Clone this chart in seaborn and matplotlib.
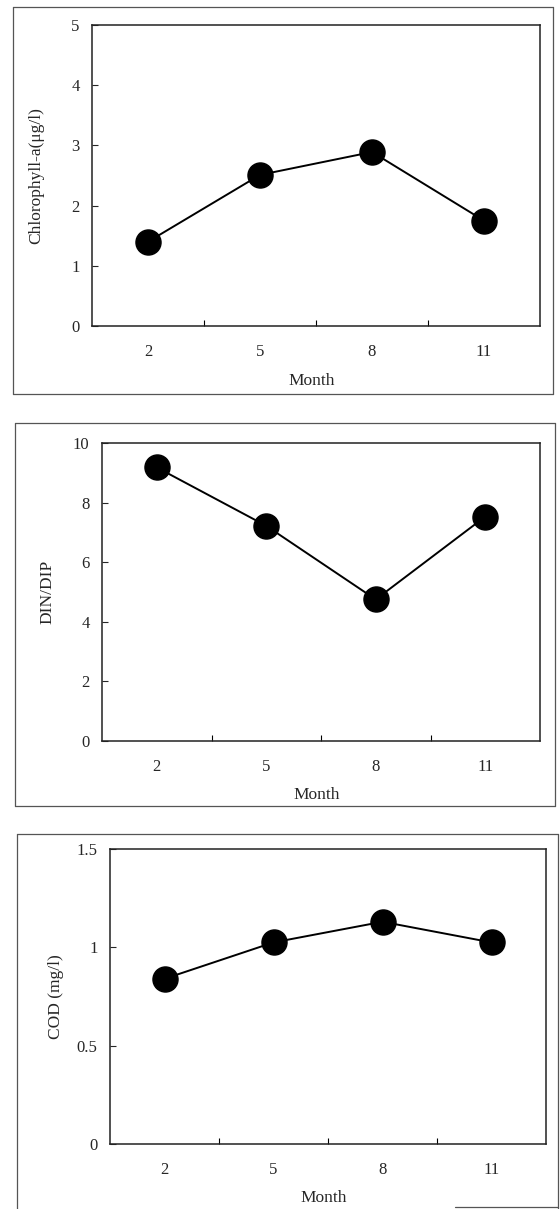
import matplotlib
matplotlib.use("Agg")
import matplotlib.pyplot as plt
from matplotlib.lines import Line2D
import seaborn as sns
import pandas as pd

# Sampling months and seasonal water-quality measurements
months = ["2", "5", "8", "11"]
chlorophyll = [1.40, 2.51, 2.89, 1.75]
din_dip = [9.18, 7.22, 4.75, 7.53]
cod = [0.84, 1.025, 1.13, 1.025]

y_labels = ["Chlorophyll-a(\u03bcg/l)", "DIN/DIP", "COD (mg/l)"]
y_limits = [(0, 5), (0, 10), (0, 1.5)]
y_ticks = [[0, 1, 2, 3, 4, 5], [0, 2, 4, 6, 8, 10], [0, 0.5, 1, 1.5]]
y_ticklabels = [["0", "1", "2", "3", "4", "5"],
                ["0", "2", "4", "6", "8", "10"],
                ["0", "0.5", "1", "1.5"]]
x_label = "Month"

sns.set_style("ticks")
plt.rcParams["font.family"] = ["Liberation Serif", "DejaVu Serif"]
plt.rcParams["font.size"] = 12

W, H = 560, 1209
fig = plt.figure(figsize=(W / 100, H / 100), dpi=100)


def fx(px):
    return px / W


def fy(py):
    return 1 - py / H


# plot-area boxes (left, right, top, bottom) in pixels
boxes = [(92, 540, 25, 326), (102, 540, 443, 741), (110, 546, 849, 1144)]
# outer panel frames (left, right, top, bottom) in pixels
frames = [(13, 553, 7, 394), (15, 555, 423, 806), (17, 558, 834, 1209)]

series = [chlorophyll, din_dip, cod]

for i, vals in enumerate(series):
    l, r, t, b = boxes[i]
    ax = fig.add_axes([fx(l), fy(b), fx(r) - fx(l), fy(t) - fy(b)])
    df = pd.DataFrame({"Month": months, "value": vals})
    sns.pointplot(data=df, x="Month", y="value", order=months, color="black",
                  markers="o", markersize=18, linewidth=1.4, ax=ax)
    ax.set_xlim(-0.5, len(months) - 0.5)
    ax.set_ylim(*y_limits[i])
    ax.set_yticks(y_ticks[i], y_ticklabels[i])
    ax.set_xticks(range(len(months)), months)
    ax.set_xticks([0.5, 1.5, 2.5], minor=True)
    ax.tick_params(axis="x", which="major", length=0, pad=13, labelsize=12)
    ax.tick_params(axis="x", which="minor", direction="in", length=4,
                   width=0.8, color="black")
    ax.tick_params(axis="y", which="major", direction="in", length=4,
                   width=0.8, pad=9, labelsize=12)
    for s in ax.spines.values():
        s.set_visible(True)
        s.set_color("#222222")
        s.set_linewidth(1.1)
    ax.set_xlabel(x_label, fontsize=12.5)
    ax.xaxis.set_label_coords(0.49, -0.155)
    ax.set_ylabel(y_labels[i], fontsize=12.5)
    ax.yaxis.set_label_coords(-0.106, 0.5)
    ax.grid(False)

# outer panel frames
frame_kw = dict(color="#555555", linewidth=0.9)
for i, (l, r, t, b) in enumerate(frames):
    fig.add_artist(Line2D([fx(l), fx(r)], [fy(t), fy(t)], **frame_kw))
    fig.add_artist(Line2D([fx(l), fx(l)], [fy(t), fy(b)], **frame_kw))
    fig.add_artist(Line2D([fx(r), fx(r)], [fy(t), fy(b)], **frame_kw))
    if i < 2:
        fig.add_artist(Line2D([fx(l), fx(r)], [fy(b), fy(b)], **frame_kw))
    else:
        fig.add_artist(Line2D([fx(455), fx(r)], [fy(1207), fy(1207)], **frame_kw))

fig.savefig("out.png", dpi=100)
